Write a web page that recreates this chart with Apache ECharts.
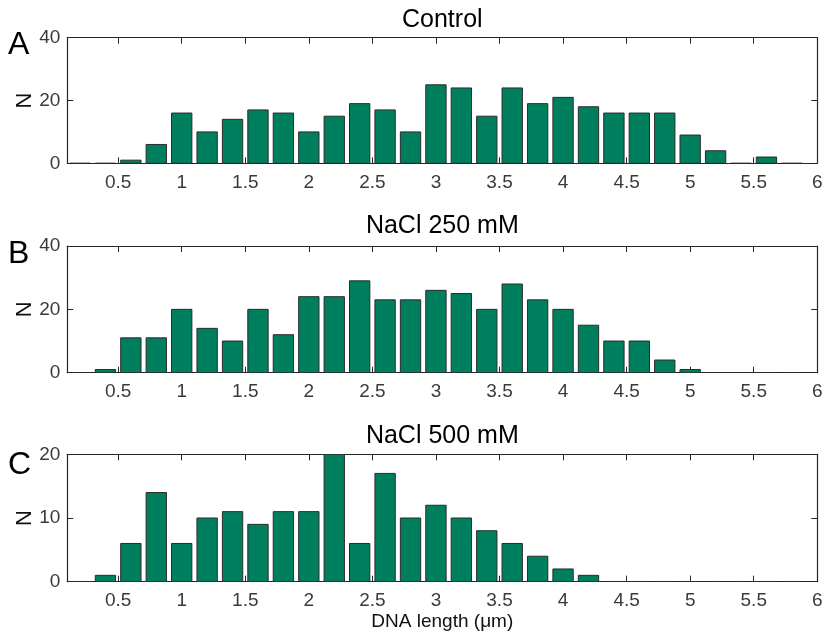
<!DOCTYPE html>
<html>
<head>
<meta charset="utf-8">
<title>DNA length histograms</title>
<script src="https://cdn.jsdelivr.net/npm/echarts/dist/echarts.min.js"></script>
<style>
  html, body { margin: 0; padding: 0; background: #fff; }
  #chart { width: 825px; height: 639px; }
</style>
</head>
<body>
<div id="chart"></div>
<script>
// Bin centres of the length histograms (µm)
const binCenters = [0.2, 0.4, 0.6, 0.8, 1.0, 1.2, 1.4, 1.6, 1.8, 2.0, 2.2, 2.4, 2.6, 2.8,
  3.0, 3.2, 3.4, 3.6, 3.8, 4.0, 4.2, 4.4, 4.6, 4.8, 5.0, 5.2, 5.4, 5.6, 5.8];

// Counts per bin
const controlCounts = [0, 0, 1, 6, 16, 10, 14, 17, 16, 10, 15, 19, 17, 10,
  25, 24, 15, 24, 19, 21, 18, 16, 16, 16, 9, 4, 0, 2, 0];
const nacl250Counts = [0, 1, 11, 11, 20, 14, 10, 20, 12, 24, 24, 29, 23, 23,
  26, 25, 20, 28, 23, 20, 15, 10, 10, 4, 1, 0, 0, 0, 0];
const nacl500Counts = [0, 1, 6, 14, 6, 10, 11, 9, 11, 11, 20, 6, 17, 10,
  12, 10, 8, 6, 4, 2, 1, 0, 0, 0, 0, 0, 0, 0, 0];

// Panel titles, letters and axis ticks
const panelTitles = ['Control', 'NaCl 250 mM', 'NaCl 500 mM'];
const panelLetters = ['A', 'B', 'C'];
const xTicks = [0.5, 1, 1.5, 2, 2.5, 3, 3.5, 4, 4.5, 5, 5.5, 6];
const yMax = [40, 40, 20];
const yStep = [20, 20, 10];
const xLabel = 'DNA length (μm)';
const yLabel = 'N';

// Styling / layout
const FONT = '"Liberation Sans", Arial, Helvetica, sans-serif';
const AXIS = '#262626';
const LABEL = '#3a3a3a';
const BAR_FILL = '#007f5f';
const BAR_EDGE = '#2b2b2b';
const BAR_W = 0.16;          // bar width in x units (80% of the 0.2 bin)
const X_MIN = 0.1, X_MAX = 6;
const panels = [
  { top: 37.7, height: 125.6, titleY: 19.7, letterY: 45 },
  { top: 246, height: 126.7, titleY: 226, letterY: 254 },
  { top: 454.3, height: 127.4, titleY: 436, letterY: 465 }
];
const GRID_LEFT = 67.3, GRID_RIGHT = 825 - 817.3;

const seriesCounts = [controlCounts, nacl250Counts, nacl500Counts];

const chart = echarts.init(document.getElementById('chart'), null, { renderer: 'canvas' });

const grid = [], xAxis = [], yAxis = [], series = [], graphic = [];

panels.forEach((p, i) => {
  grid.push({
    left: GRID_LEFT, right: GRID_RIGHT, top: p.top, height: p.height,
    containLabel: false, outerBoundsMode: 'none'
  });

  const line = { show: true, onZero: false, lineStyle: { color: AXIS, width: 1.2 } };
  const tick = (custom) => ({
    show: true, inside: true, length: 6,
    customValues: custom, lineStyle: { color: AXIS, width: 1 }
  });

  // bottom x axis with labels
  xAxis.push({
    gridIndex: i, type: 'value', position: 'bottom', min: X_MIN, max: X_MAX,
    axisLine: line, axisTick: tick(xTicks),
    axisLabel: { customValues: xTicks, fontSize: 19, fontFamily: FONT, color: LABEL, margin: 10 },
    splitLine: { show: false },
    name: i === 2 ? xLabel : '', nameLocation: 'middle', nameGap: 31,
    nameTextStyle: { fontSize: 19, fontFamily: FONT, color: '#111' }
  });
  // top x axis (box side, ticks only)
  xAxis.push({
    gridIndex: i, type: 'value', position: 'top', min: X_MIN, max: X_MAX,
    axisLine: line, axisTick: tick(xTicks),
    axisLabel: { show: false }, splitLine: { show: false }
  });
  // left y axis with labels
  yAxis.push({
    gridIndex: i, type: 'value', position: 'left', min: 0, max: yMax[i], interval: yStep[i],
    axisLine: line, axisTick: { show: true, inside: true, length: 6, lineStyle: { color: AXIS } },
    axisLabel: { fontSize: 19, fontFamily: FONT, color: LABEL, margin: 7 },
    splitLine: { show: false },
    name: yLabel, nameLocation: 'middle', nameGap: 31, nameRotate: 90, nameMoveOverlap: false,
    nameTextStyle: { fontSize: 22, fontFamily: FONT, color: '#111' }
  });
  // right y axis (box side, ticks only)
  yAxis.push({
    gridIndex: i, type: 'value', position: 'right', min: 0, max: yMax[i], interval: yStep[i],
    axisLine: line, axisTick: { show: true, inside: true, length: 6, lineStyle: { color: AXIS } },
    axisLabel: { show: false }, splitLine: { show: false }
  });

  series.push({
    type: 'custom',
    xAxisIndex: i * 2, yAxisIndex: i * 2,
    data: binCenters.map((x, k) => [x, seriesCounts[i][k]]),
    clip: true,
    renderItem: (params, api) => {
      const x = api.value(0), y = api.value(1);
      const p0 = api.coord([x - BAR_W / 2, 0]);
      const p1 = api.coord([x + BAR_W / 2, y]);
      return {
        type: 'rect',
        shape: { x: p0[0], y: p1[1], width: p1[0] - p0[0], height: p0[1] - p1[1] },
        style: { fill: BAR_FILL, stroke: BAR_EDGE, lineWidth: 1 }
      };
    },
    z: 1
  });

  graphic.push({
    type: 'text', x: GRID_LEFT + (825 - GRID_RIGHT - GRID_LEFT) / 2, y: p.titleY,
    style: { text: panelTitles[i], fontSize: 25, fontFamily: FONT, fill: '#000',
      align: 'center', verticalAlign: 'middle' }
  });
  graphic.push({
    type: 'text', x: 8, y: p.letterY,
    style: { text: panelLetters[i], fontSize: 32, fontFamily: FONT, fill: '#000',
      align: 'left', verticalAlign: 'middle' }
  });
});

chart.setOption({
  animation: false,
  backgroundColor: '#fff',
  grid, xAxis, yAxis, series, graphic
});
</script>
</body>
</html>
